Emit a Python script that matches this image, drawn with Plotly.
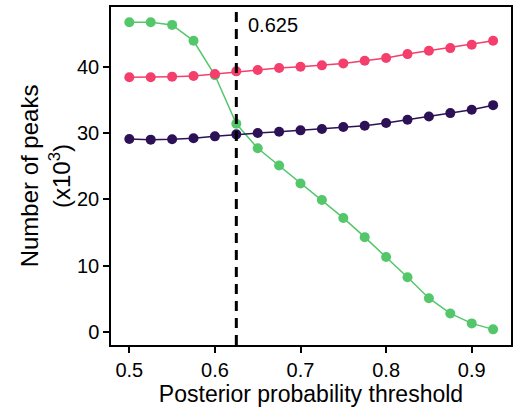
import plotly.graph_objects as go

thresholds = [0.5, 0.525, 0.55, 0.575, 0.6, 0.625, 0.65, 0.675, 0.7, 0.725,
              0.75, 0.775, 0.8, 0.825, 0.85, 0.875, 0.9, 0.925]
green_vals = [46.7, 46.7, 46.3, 43.9, 38.7, 31.4, 27.7, 25.1, 22.4, 19.9,
              17.2, 14.3, 11.3, 8.25, 5.1, 2.8, 1.3, 0.4]
pink_vals = [38.4, 38.4, 38.5, 38.6, 38.9, 39.3, 39.5, 39.8, 40.0, 40.2,
             40.5, 40.9, 41.3, 41.9, 42.4, 42.8, 43.3, 43.9]
purple_vals = [29.1, 29.0, 29.05, 29.2, 29.5, 29.8, 30.0, 30.2, 30.4, 30.6,
               30.9, 31.1, 31.5, 32.0, 32.5, 33.0, 33.5, 34.2]
cutoff = 0.625
x_ticks = [0.5, 0.6, 0.7, 0.8, 0.9]
y_ticks = [0, 10, 20, 30, 40]

fig = go.Figure()
for vals, col in [(green_vals, "#53c76a"), (pink_vals, "#f43e6b"), (purple_vals, "#2c1157")]:
    fig.add_trace(go.Scatter(x=thresholds, y=vals, mode="lines+markers",
                             line=dict(color=col, width=1.5),
                             marker=dict(color=col, size=10),
                             showlegend=False))

fig.add_shape(type="line", x0=cutoff, x1=cutoff, xref="x", yref="paper", y0=0, y1=1,
              line=dict(color="black", width=3, dash="10px,7px"))
fig.add_annotation(x=cutoff, y=1, xref="x", yref="paper", text=str(cutoff),
                   showarrow=False, xanchor="left", yanchor="top", xshift=10, yshift=-5,
                   font=dict(size=20, color="black"))

font_family = "Liberation Sans, Arial, sans-serif"
fig.update_layout(
    width=520, height=418,
    margin=dict(l=111, r=9, t=7, b=73),
    plot_bgcolor="white", paper_bgcolor="white",
    font=dict(family=font_family, color="black"),
    xaxis=dict(range=[0.4786, 0.9459], tickvals=x_ticks, ticktext=[str(v) for v in x_ticks],
               showgrid=False, zeroline=False, showline=True, linecolor="black", linewidth=1.5,
               mirror=True, ticks="outside", ticklen=6, tickwidth=1.5, tickcolor="black",
               tickfont=dict(size=20), automargin=False,
               title=dict(text="Posterior probability threshold", font=dict(size=23), standoff=6)),
    yaxis=dict(range=[-1.96, 49.0], tickvals=y_ticks,
               showgrid=False, zeroline=False, showline=True, linecolor="black", linewidth=1.5,
               mirror=True, ticks="outside", ticklen=6, tickwidth=1.5, tickcolor="black",
               tickfont=dict(size=20), automargin=False,
               title=dict(text="Number of peaks<br>(x10<sup>3</sup>)", font=dict(size=24), standoff=0)),
)

fig.write_html("out.html", config={"displayModeBar": False},
               post_script="document.body.style.margin='0';")
